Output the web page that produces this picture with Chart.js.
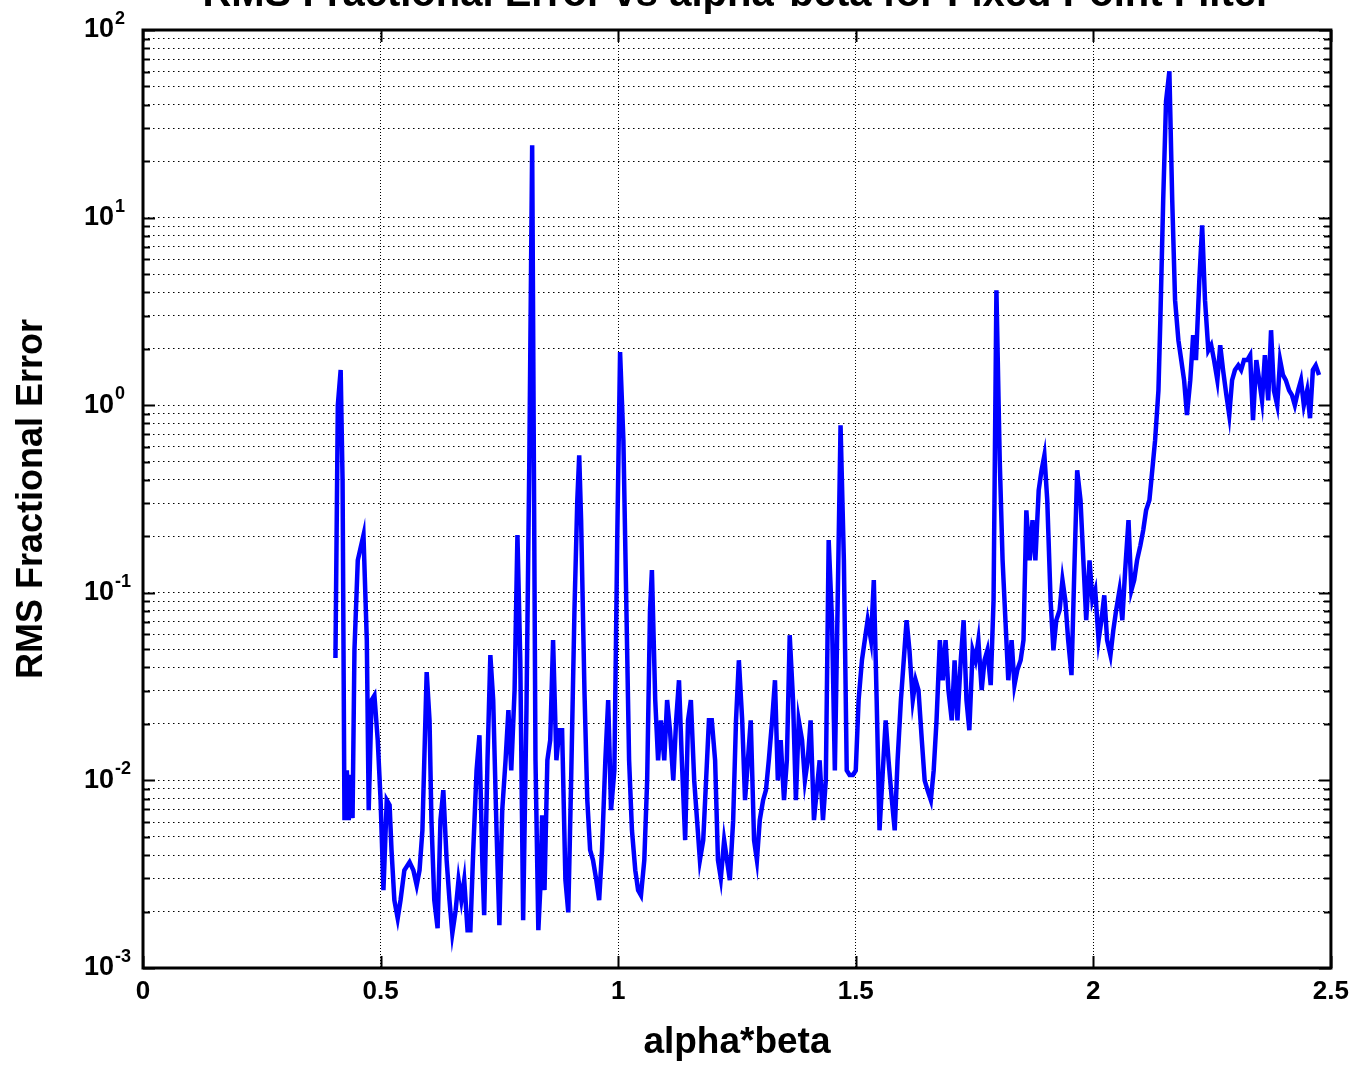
<!DOCTYPE html>
<html>
<head>
<meta charset="utf-8">
<script src="https://cdn.jsdelivr.net/npm/chart.js@4.4.0/dist/chart.umd.min.js"></script>
<style>
  html, body { margin: 0; padding: 0; background: #fff; overflow: hidden; }
  #wrap { position: relative; width: 1357px; height: 1065px; overflow: hidden; }
  #chart { position: absolute; left: 0; top: -29px; }
</style>
</head>
<body>
<div id="wrap"><canvas id="chart" width="1357" height="1094"></canvas></div>
<script>
const titleText = 'RMS Fractional Error vs alpha*beta for Fixed Point Filter';
const xLabel = 'alpha*beta';
const yLabel = 'RMS Fractional Error';

const alphaBeta = [
  0.405, 0.410, 0.416, 0.420, 0.424, 0.429, 0.433, 0.437, 0.441, 0.445,
  0.452, 0.464, 0.471, 0.475, 0.481, 0.487, 0.494, 0.500, 0.506, 0.513,
  0.519, 0.523, 0.529, 0.536, 0.542, 0.550, 0.561, 0.569, 0.576, 0.582,
  0.588, 0.597, 0.603, 0.607, 0.613, 0.620, 0.626, 0.632, 0.639, 0.645,
  0.651, 0.658, 0.664, 0.670, 0.676, 0.683, 0.689, 0.695, 0.702, 0.708,
  0.714, 0.718, 0.725, 0.731, 0.737, 0.744, 0.750, 0.756, 0.763, 0.769,
  0.775, 0.782, 0.788, 0.794, 0.800, 0.807, 0.813, 0.819, 0.826, 0.832,
  0.836, 0.840, 0.845, 0.851, 0.857, 0.863, 0.870, 0.876, 0.882, 0.889,
  0.895, 0.901, 0.908, 0.914, 0.918, 0.922, 0.929, 0.935, 0.941, 0.947,
  0.954, 0.960, 0.966, 0.973, 0.979, 0.985, 0.992, 0.998, 1.004, 1.011,
  1.017, 1.023, 1.029, 1.036, 1.042, 1.048, 1.055, 1.061, 1.067, 1.071,
  1.078, 1.084, 1.090, 1.097, 1.103, 1.109, 1.116, 1.122, 1.128, 1.134,
  1.141, 1.147, 1.153, 1.160, 1.166, 1.172, 1.179, 1.185, 1.191, 1.197,
  1.204, 1.210, 1.216, 1.223, 1.229, 1.235, 1.242, 1.248, 1.254, 1.261,
  1.267, 1.273, 1.279, 1.286, 1.292, 1.298, 1.305, 1.311, 1.317, 1.324,
  1.330, 1.336, 1.342, 1.349, 1.355, 1.361, 1.368, 1.374, 1.380, 1.387,
  1.393, 1.399, 1.405, 1.412, 1.418, 1.424, 1.431, 1.437, 1.443, 1.450,
  1.456, 1.462, 1.468, 1.475, 1.481, 1.487, 1.494, 1.500, 1.506, 1.513,
  1.519, 1.525, 1.532, 1.538, 1.544, 1.550, 1.557, 1.563, 1.569, 1.576,
  1.582, 1.588, 1.595, 1.601, 1.607, 1.613, 1.620, 1.626, 1.632, 1.639,
  1.645, 1.651, 1.658, 1.664, 1.670, 1.677, 1.683, 1.689, 1.695, 1.702,
  1.708, 1.714, 1.721, 1.727, 1.733, 1.739, 1.746, 1.752, 1.758, 1.765,
  1.771, 1.777, 1.784, 1.790, 1.796, 1.803, 1.809, 1.815, 1.821, 1.828,
  1.834, 1.840, 1.847, 1.853, 1.859, 1.866, 1.872, 1.878, 1.885, 1.891,
  1.897, 1.903, 1.910, 1.916, 1.922, 1.929, 1.935, 1.941, 1.947, 1.954,
  1.960, 1.966, 1.973, 1.979, 1.985, 1.992, 1.998, 2.004, 2.011, 2.017,
  2.023, 2.029, 2.036, 2.042, 2.048, 2.055, 2.061, 2.067, 2.074, 2.080,
  2.086, 2.092, 2.099, 2.105, 2.111, 2.118, 2.124, 2.130, 2.137, 2.141,
  2.147, 2.153, 2.160, 2.166, 2.172, 2.179, 2.185, 2.191, 2.197, 2.204,
  2.210, 2.216, 2.223, 2.229, 2.235, 2.242, 2.248, 2.254, 2.261, 2.267,
  2.273, 2.280, 2.286, 2.292, 2.298, 2.305, 2.311, 2.317, 2.324, 2.330,
  2.336, 2.343, 2.349, 2.355, 2.361, 2.368, 2.374, 2.380, 2.387, 2.393,
  2.399, 2.405, 2.412, 2.418, 2.424, 2.431, 2.437, 2.443, 2.450, 2.456,
  2.462, 2.468, 2.475
];

const rmsError = [
  0.0449, 1.0, 1.54, 0.398, 0.00614, 0.0113, 0.00614, 0.0107, 0.00629, 0.0494,
  0.149, 0.203, 0.0559, 0.00694, 0.0268, 0.0284, 0.0164, 0.00785, 0.0026, 0.00785,
  0.00738, 0.00425, 0.0023, 0.00184, 0.0023, 0.00332, 0.00367, 0.00332, 0.00276, 0.00332,
  0.00542, 0.0378, 0.0209, 0.00614, 0.0023, 0.00163, 0.00614, 0.00887, 0.00376, 0.0023,
  0.00153, 0.00203, 0.00294, 0.0023, 0.00294, 0.00159, 0.00159, 0.00425, 0.0113, 0.0174,
  0.00376, 0.00191, 0.0128, 0.0465, 0.0268, 0.00542, 0.00169, 0.00694, 0.0128, 0.0237,
  0.0113, 0.0303, 0.203, 0.0437, 0.0018, 0.0237, 0.509, 24.3, 0.0128, 0.00159,
  0.0026, 0.00652, 0.0026, 0.0128, 0.0164, 0.0559, 0.0128, 0.0185, 0.0185, 0.00294,
  0.00198, 0.01, 0.0807, 0.312, 0.541, 0.244, 0.0303, 0.00785, 0.00425, 0.00376,
  0.00294, 0.0023, 0.00425, 0.0128, 0.0268, 0.00694, 0.0113, 0.191, 1.92, 0.651,
  0.0914, 0.0128, 0.00542, 0.00332, 0.0026, 0.00244, 0.00376, 0.01, 0.0807, 0.132,
  0.0268, 0.0128, 0.0209, 0.0128, 0.0268, 0.0185, 0.01, 0.0209, 0.0342, 0.0128,
  0.0048, 0.0209, 0.0268, 0.01, 0.00614, 0.00376, 0.0048, 0.01, 0.0209, 0.0209,
  0.0128, 0.00376, 0.00301, 0.0048, 0.00376, 0.00294, 0.00614, 0.0209, 0.0437, 0.0209,
  0.00785, 0.0128, 0.0209, 0.0048, 0.00376, 0.00614, 0.00785, 0.00887, 0.0128, 0.0209,
  0.0342, 0.01, 0.0164, 0.00785, 0.0128, 0.0594, 0.0268, 0.00785, 0.0209, 0.0164,
  0.01, 0.0128, 0.0209, 0.00614, 0.00887, 0.0128, 0.00614, 0.01, 0.191, 0.0714,
  0.0113, 0.0914, 0.782, 0.149, 0.0113, 0.0107, 0.0107, 0.0113, 0.0268, 0.0437,
  0.0559, 0.0714, 0.0559, 0.117, 0.0268, 0.00542, 0.0113, 0.0209, 0.0128, 0.00785,
  0.00542, 0.0128, 0.0268, 0.0437, 0.0714, 0.0494, 0.0268, 0.0342, 0.0303, 0.0164,
  0.01, 0.00887, 0.00785, 0.0113, 0.0209, 0.0559, 0.0342, 0.0559, 0.0303, 0.0209,
  0.0437, 0.0209, 0.0437, 0.0714, 0.0268, 0.0185, 0.0494, 0.0437, 0.0559, 0.0303,
  0.0437, 0.0494, 0.0322, 0.0914, 4.1, 0.509, 0.149, 0.0714, 0.0342, 0.0559,
  0.0322, 0.0387, 0.0437, 0.0559, 0.275, 0.149, 0.244, 0.149, 0.352, 0.45,
  0.541, 0.312, 0.0914, 0.0494, 0.0714, 0.0807, 0.117, 0.0914, 0.0559, 0.0364,
  0.132, 0.45, 0.312, 0.149, 0.0714, 0.149, 0.0914, 0.103, 0.0559, 0.0714,
  0.097, 0.0559, 0.0465, 0.0632, 0.0807, 0.103, 0.0714, 0.132, 0.244, 0.103,
  0.117, 0.149, 0.179, 0.216, 0.275, 0.312, 0.45, 0.651, 1.2, 2.84,
  12.4, 41.7, 60.3, 12.4, 3.63, 2.22, 1.74, 1.36, 0.885, 1.36,
  2.36, 1.74, 4.6, 9.1, 3.63, 1.96, 2.09, 1.74, 1.36, 2.09,
  1.54, 1.13, 0.885, 1.36, 1.54, 1.63, 1.54, 1.74, 1.74, 1.85,
  0.832, 1.74, 1.36, 1.06, 1.85, 1.06, 2.51, 1.2, 1.0, 1.74,
  1.45, 1.36, 1.2, 1.13, 1.0, 1.2, 1.36, 1.0, 1.2, 0.853,
  1.54, 1.63, 1.45
];

// log axis: decade exponents and the minor steps between them
const yExponents = [-3, -2, -1, 0, 1, 2];
const yMinorSteps = [2, 3, 4, 5, 6, 7, 8, 9];
const xTickValues = [0, 0.5, 1, 1.5, 2, 2.5];

const FONT = "Arial, 'Liberation Sans', Helvetica, sans-serif";
Chart.defaults.font.family = FONT;
Chart.defaults.color = '#000';

function isDecade(v) {
  const l = Math.log10(v);
  return Math.abs(l - Math.round(l)) < 1e-6;
}

// MATLAB style box, inward ticks and 10^n labels
const matlabAxes = {
  id: 'matlabAxes',
  afterDraw(chart) {
    const { ctx, chartArea: a, scales } = chart;
    const x = scales.x, y = scales.y;
    ctx.save();
    ctx.strokeStyle = '#000';
    ctx.lineWidth = 2;
    ctx.beginPath();
    y.ticks.forEach(t => {
      const py = Math.round(y.getPixelForValue(t.value)) + 0.5;
      const len = isDecade(t.value) ? 12 : 7;
      ctx.moveTo(a.left, py); ctx.lineTo(a.left + len, py);
      ctx.moveTo(a.right, py); ctx.lineTo(a.right - len, py);
    });
    x.ticks.forEach(t => {
      const px = Math.round(x.getPixelForValue(t.value)) + 0.5;
      ctx.moveTo(px, a.bottom); ctx.lineTo(px, a.bottom - 12);
      ctx.moveTo(px, a.top); ctx.lineTo(px, a.top + 12);
    });
    ctx.stroke();

    ctx.lineWidth = 3;
    ctx.strokeRect(a.left, a.top, a.right - a.left, a.bottom - a.top);

    ctx.fillStyle = '#000';
    yExponents.forEach(e => {
      const py = y.getPixelForValue(Math.pow(10, e));
      const bx = a.left - 29;
      ctx.font = 'bold 27px ' + FONT;
      ctx.textAlign = 'right';
      ctx.textBaseline = 'middle';
      ctx.fillText('10', bx, py);
      ctx.font = 'bold 18px ' + FONT;
      ctx.textAlign = 'left';
      ctx.textBaseline = 'alphabetic';
      ctx.fillText(String(e), bx + 1, py - 6);
    });
    ctx.restore();
  }
};

new Chart(document.getElementById('chart'), {
  type: 'line',
  data: {
    datasets: [{
      data: alphaBeta.map((v, i) => ({ x: v, y: rmsError[i] })),
      borderColor: '#0000ff',
      borderWidth: 4.5,
      pointRadius: 0,
      tension: 0,
      fill: false
    }]
  },
  options: {
    responsive: false,
    animation: false,
    layout: { padding: { left: 10, right: 24, top: 0, bottom: 0 } },
    plugins: {
      legend: { display: false },
      tooltip: { enabled: false },
      title: {
        display: true,
        text: titleText,
        fullSize: false,
        color: '#000',
        font: { size: 40, weight: 'bold' },
        padding: { top: 0, bottom: 11 }
      }
    },
    scales: {
      x: {
        type: 'linear',
        min: 0,
        max: 2.5,
        afterBuildTicks: (s) => { s.ticks = xTickValues.map(v => ({ value: v })); },
        afterFit: (s) => { s.height = 97; },
        ticks: {
          autoSkip: false, padding: 8, color: '#000',
          font: { size: 26, weight: 'bold' },
          callback: (v) => String(v)
        },
        grid: { color: '#000', lineWidth: 1, drawTicks: false },
        border: { display: false, dash: [1, 2] },
        title: { display: true, text: xLabel, color: '#000', font: { size: 37, weight: 'bold' }, padding: 0 }
      },
      y: {
        type: 'logarithmic',
        min: 0.001,
        max: 100,
        afterBuildTicks: (s) => {
          const vals = [];
          yExponents.forEach(e => {
            const base = Math.pow(10, e);
            vals.push({ value: base });
            if (e < yExponents[yExponents.length - 1]) {
              yMinorSteps.forEach(k => vals.push({ value: k * base }));
            }
          });
          s.ticks = vals;
        },
        afterFit: (s) => { s.width = 133; },
        ticks: { display: false, autoSkip: false },
        grid: { color: '#000', lineWidth: 1, drawTicks: false },
        border: { display: false, dash: [1.5, 3.5] },
        title: { display: true, text: yLabel, color: '#000', font: { size: 36, weight: 'bold' }, padding: 0 }
      }
    }
  },
  plugins: [matlabAxes]
});
</script>
</body>
</html>
